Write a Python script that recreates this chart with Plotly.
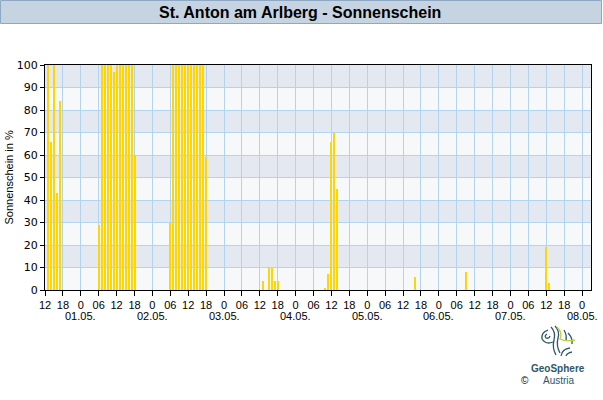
import plotly.graph_objects as go
from datetime import datetime, timedelta

# ---- data: hourly sunshine (%) per day, index = hour of day ----
days = ["2025-04-30", "2025-05-01", "2025-05-02", "2025-05-03",
        "2025-05-04", "2025-05-05", "2025-05-06", "2025-05-07"]
sun_3004 = [0]*13 + [100, 66, 100, 43, 84] + [0]*6
sun_0105 = [0]*6 + [29, 100, 100, 100, 100, 97, 100, 100, 100, 100, 100, 100, 60] + [0]*5
sun_0205 = [0]*6 + [30, 100, 100, 100, 100, 100, 100, 100, 100, 100, 100, 100, 59] + [0]*5
sun_0305 = [0]*13 + [4, 0, 10, 10, 4, 4] + [0]*5
sun_0405 = [0]*10 + [1, 7, 66, 70, 45] + [0]*9
sun_0505 = [0]*16 + [6] + [0]*7
sun_0605 = [0]*9 + [8] + [0]*14
sun_0705 = [0]*12 + [19, 3] + [0]*10
series = [sun_3004, sun_0105, sun_0205, sun_0305, sun_0405, sun_0505, sun_0605, sun_0705]

date_labels = ["01.05.", "02.05.", "03.05.", "04.05.", "05.05.", "06.05.", "07.05.", "08.05."]
hour_text = {0: "0", 6: "06", 12: "12", 18: "18"}

times, vals = [], []
for d, s in zip(days, series):
    base = datetime.fromisoformat(d)
    for h, v in enumerate(s):
        if v > 0:
            times.append(base + timedelta(hours=h))
            vals.append(v)

start = datetime(2025, 4, 30, 12)
end = datetime(2025, 5, 8, 3)
tickvals, ticktext = [], []
t = start
while t <= datetime(2025, 5, 8, 0):
    tickvals.append(t)
    ticktext.append(hour_text[t.hour])
    t += timedelta(hours=6)

W, H = 603, 400
ML, MR, MT, MB = 45, 12, 65, 110
PW, PH = W - ML - MR, H - MT - MB
px_per_hour = PW / ((end - start).total_seconds() / 3600)

def px(x):
    return (x - ML) / PW

def py(y):
    return (H - MB - y) / PH

fig = go.Figure()
fig.add_trace(go.Bar(x=times, y=vals, width=(2.0 / px_per_hour) * 3600000,
                     marker=dict(color="rgba(255,215,0,0.999)", line=dict(width=0)),
                     hoverinfo="x+y"))

shapes = []
# alternating bands
for lo in range(10, 100, 20):
    shapes.append(dict(type="rect", xref="paper", yref="y", x0=0, x1=1, y0=lo, y1=lo + 10,
                       fillcolor="#e4e9f1", line=dict(width=0), layer="below"))
# title bar
shapes.append(dict(type="rect", xref="paper", yref="paper", x0=px(0.5), x1=px(601.5),
                   y0=py(0.5), y1=py(23.5), fillcolor="#c6d3e1",
                   line=dict(color="#8ea8c4", width=1), layer="above"))

# logo approximation
def path(pts, close=False):
    s = "M " + " ".join(
        ("%s %f,%f" % (c, px(x), py(y))) if c else ("%f,%f" % (px(x), py(y)))
        for c, x, y in pts)
    return s + (" Z" if close else "")

teal = "#2e5866"
lime = "#b9d43a"
logo_paths = [
    ([("", 547, 334), ("Q", 544, 336), ("", 546, 338), ("Q", 549, 339), ("", 550, 336)], teal),
    ([("", 548, 330), ("Q", 541, 332), ("", 542, 339), ("Q", 546, 345), ("", 553, 342)], teal),
    ([("", 551, 327), ("Q", 556, 332), ("", 554, 340), ("Q", 552, 348), ("", 556, 355)], teal),
    ([("", 555, 326), ("Q", 560, 331), ("", 558, 338), ("Q", 556, 346), ("", 560, 353)], teal),
    ([("", 564, 330), ("Q", 567, 335), ("", 566, 340)], teal),
    ([("", 568, 333), ("Q", 573, 338), ("", 572, 344)], teal),
    ([("", 561, 356), ("Q", 562, 349), ("", 570, 348)], teal),
    ([("", 566, 356), ("Q", 567, 353), ("", 572, 352)], teal),
    ([("", 557, 327), ("Q", 563, 333), ("", 560, 339), ("Q", 566, 342), ("", 575, 340)], lime),
]
for pts, col in logo_paths:
    shapes.append(dict(type="path", xref="paper", yref="paper", path=path(pts),
                       line=dict(color=col, width=1.3), layer="above"))

annotations = [
    dict(text="<b>St. Anton am Arlberg - Sonnenschein</b>", xref="paper", yref="paper",
         x=px(300), y=py(12.5), xanchor="center", yanchor="middle", showarrow=False,
         font=dict(family="Liberation Sans, Arial", size=16, color="#000000")),
    dict(text="Sonnenschein in %", xref="paper", yref="paper", x=px(8), y=py(177.5),
         xanchor="center", yanchor="middle", textangle=-90, showarrow=False,
         font=dict(family="Liberation Sans, Arial", size=11, color="#000000")),
    dict(text="<b>GeoSphere</b>", xref="paper", yref="paper", x=px(558), y=py(368),
         xanchor="center", yanchor="middle", showarrow=False,
         font=dict(family="Liberation Sans, Arial", size=10, color=teal)),
    dict(text="Austria", xref="paper", yref="paper", x=px(559), y=py(380),
         xanchor="center", yanchor="middle", showarrow=False,
         font=dict(family="Liberation Sans, Arial", size=10, color=teal)),
    dict(text="©", xref="paper", yref="paper", x=px(525), y=py(380),
         xanchor="center", yanchor="middle", showarrow=False,
         font=dict(family="Liberation Sans, Arial", size=10, color="#000000")),
]
for i, lab in enumerate(date_labels):
    annotations.append(dict(text=lab, xref="x", yref="paper",
                            x=datetime(2025, 5, 1) + timedelta(days=i), y=0,
                            yshift=-25.5, xanchor="center", yanchor="middle",
                            showarrow=False,
                            font=dict(family="Liberation Sans, Arial", size=11, color="#000000")))

fig.update_layout(
    width=W, height=H,
    margin=dict(l=ML, r=MR, t=MT, b=MB, pad=0),
    paper_bgcolor="#ffffff", plot_bgcolor="#f6f8fa",
    showlegend=False, bargap=0,
    shapes=shapes, annotations=annotations,
    xaxis=dict(type="date", range=[start, end], tickmode="array",
               tickvals=tickvals, ticktext=ticktext, tickangle=0,
               ticks="outside", ticklen=5, tickcolor="#000000", tickwidth=1,
               showline=True, linecolor="#000000", linewidth=1, mirror=True,
               showgrid=True, gridcolor="#b3d4ee", gridwidth=1, zeroline=False,
               tickfont=dict(family="Liberation Sans, Arial", size=11, color="#000000"),
               fixedrange=True),
    yaxis=dict(range=[0, 100], tickmode="linear", tick0=0, dtick=10,
               ticks="outside", ticklen=4, tickcolor="#000000", tickwidth=1,
               showline=True, linecolor="#000000", linewidth=1, mirror=True,
               showgrid=True, gridcolor="#b3d4ee", gridwidth=1, zeroline=False,
               tickfont=dict(family="DejaVu Sans, Verdana", size=11, color="#000000"),
               fixedrange=True),
)

fig.write_html("out.html", config={"displayModeBar": False})
